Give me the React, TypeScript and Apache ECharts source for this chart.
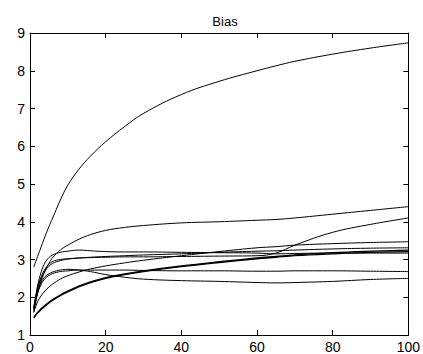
import React, { useEffect, useRef } from "react";
import * as echarts from "echarts";

const xs = [1, 2, 3, 4, 5, 6, 8, 10, 13, 16, 20, 25, 30, 40, 50, 60, 65, 70, 80, 90, 100];

const lineA = [2.8, 3.08, 3.35, 3.62, 3.87, 4.1, 4.57, 4.97, 5.4, 5.74, 6.12, 6.52, 6.87, 7.37, 7.72, 8.0, 8.13, 8.25, 8.44, 8.6, 8.74];
const lineB = [1.6, 2.1, 2.45, 2.7, 2.9, 3.05, 3.25, 3.38, 3.54, 3.66, 3.77, 3.85, 3.9, 3.97, 4.0, 4.04, 4.06, 4.1, 4.2, 4.3, 4.4];
const lineC = [1.7, 2.25, 2.55, 2.75, 2.87, 2.95, 3.0, 3.02, 3.04, 3.05, 3.06, 3.07, 3.07, 3.08, 3.09, 3.1, 3.17, 3.38, 3.72, 3.93, 4.1];
const lineD = [1.6, 1.88, 2.05, 2.17, 2.27, 2.35, 2.48, 2.57, 2.67, 2.75, 2.83, 2.91, 2.98, 3.1, 3.21, 3.31, 3.34, 3.38, 3.42, 3.45, 3.47];
const lineE = [1.7, 2.3, 2.68, 2.92, 3.05, 3.12, 3.19, 3.22, 3.25, 3.23, 3.21, 3.2, 3.2, 3.19, 3.18, 3.17, 3.15, 3.16, 3.17, 3.17, 3.17];
const lineF = [1.65, 2.2, 2.5, 2.7, 2.82, 2.9, 2.97, 3.01, 3.04, 3.06, 3.08, 3.1, 3.12, 3.15, 3.19, 3.22, 3.23, 3.25, 3.28, 3.3, 3.31];
const lineG = [1.7, 2.1, 2.35, 2.5, 2.58, 2.63, 2.68, 2.7, 2.72, 2.72, 2.72, 2.72, 2.71, 2.7, 2.7, 2.69, 2.69, 2.7, 2.7, 2.69, 2.68];
const lineH = [1.75, 2.15, 2.4, 2.55, 2.62, 2.67, 2.72, 2.74, 2.72, 2.68, 2.6, 2.53, 2.48, 2.44, 2.42, 2.39, 2.38, 2.39, 2.42, 2.47, 2.5];
const lineT1 = [1.47, 1.6, 1.7, 1.79, 1.87, 1.94, 2.06, 2.16, 2.3, 2.41, 2.52, 2.62, 2.7, 2.83, 2.94, 3.04, 3.08, 3.12, 3.18, 3.22, 3.25];
const lineT2 = [1.45, 1.58, 1.68, 1.77, 1.85, 1.92, 2.04, 2.14, 2.28, 2.39, 2.5, 2.6, 2.68, 2.81, 2.92, 3.02, 3.06, 3.1, 3.15, 3.19, 3.21];

const allLines = [lineA, lineB, lineC, lineD, lineE, lineF, lineG, lineH, lineT1, lineT2];
const lineWidths = [1, 1, 1, 1, 1, 1, 1, 1, 1.3, 1.3];

const FONT = "'Liberation Sans', Arial, Helvetica, sans-serif";

export default function App() {
  const ref = useRef<HTMLDivElement>(null);
  useEffect(() => {
    if (!ref.current) return;
    const chart = echarts.init(ref.current, undefined, { renderer: "svg" });
    const axisLine = { show: true, onZero: false, lineStyle: { color: "#000", width: 1 } };
    const tick = { show: true, inside: true, length: 5, lineStyle: { color: "#000" } };
    const label = { color: "#000", fontSize: 14, fontFamily: FONT };
    chart.setOption({
      animation: false,
      backgroundColor: "#fff",
      title: {
        text: "Bias",
        left: 220,
        top: 10,
        textAlign: "center",
        textStyle: { color: "#000", fontSize: 13, fontWeight: "normal", fontFamily: FONT },
      },
      grid: { left: 30, top: 33, width: 381, height: 302, containLabel: false },
      xAxis: [
        {
          type: "value", min: 0, max: 100, interval: 20, position: "bottom",
          axisLine, axisTick: tick, splitLine: { show: false },
          axisLabel: { ...label, margin: 5 },
        },
        {
          type: "value", min: 0, max: 100, interval: 20, position: "top",
          axisLine, axisTick: tick, splitLine: { show: false },
          axisLabel: { show: false },
        },
      ],
      yAxis: [
        {
          type: "value", min: 1, max: 9, interval: 1, position: "left",
          axisLine, axisTick: tick, splitLine: { show: false },
          axisLabel: { ...label, margin: 5 },
        },
        {
          type: "value", min: 1, max: 9, interval: 1, position: "right",
          axisLine, axisTick: tick, splitLine: { show: false },
          axisLabel: { show: false },
        },
      ],
      series: allLines.map((arr, k) => ({
        type: "line",
        xAxisIndex: 0,
        yAxisIndex: 0,
        data: xs.map((x, i) => [x, arr[i]]),
        smooth: 0.4,
        showSymbol: false,
        symbol: "none",
        lineStyle: { color: "#000", width: lineWidths[k] },
      })),
    });
    return () => chart.dispose();
  }, []);
  return (
    <div
      ref={ref}
      style={{ position: "fixed", left: 0, top: 0, width: 423, height: 354, background: "#fff" }}
    />
  );
}
